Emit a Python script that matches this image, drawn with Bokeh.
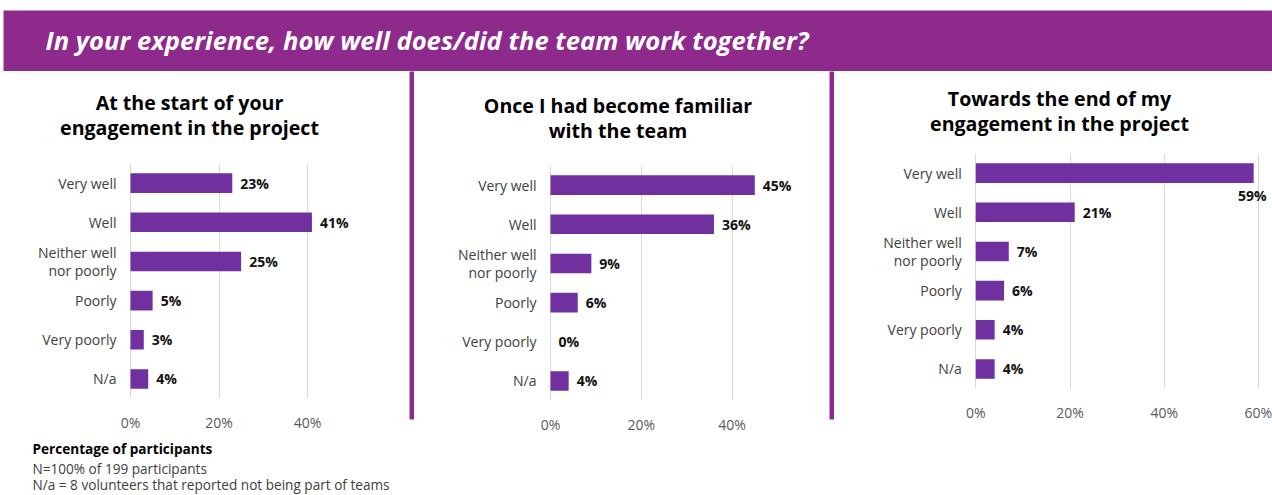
from bokeh.plotting import figure
from bokeh.layouts import row, column
from bokeh.models import (ColumnDataSource, FactorRange, Range1d, FixedTicker,
                          Label, CustomJSTickFormatter)
from bokeh.core.properties import value
from bokeh.embed import file_html
from bokeh.resources import INLINE

# ---------------- data ----------------
categories = ["Very well", "Well", "Neither well nor poorly", "Poorly", "Very poorly", "N/a"]
category_labels = ["Very well", "Well", "Neither well\nnor poorly", "Poorly", "Very poorly", "N/a"]
start_values = [23, 41, 25, 5, 3, 4]
familiar_values = [45, 36, 9, 6, 0, 4]
end_values = [59, 21, 7, 6, 4, 4]

panel_titles = [
    ["At the start of your", "engagement in the project"],
    ["Once I had become familiar", "with the team"],
    ["Towards the end of my", "engagement in the project"],
]
panel_ticks = [[0, 20, 40], [0, 20, 40], [0, 20, 40, 60]]

header_text = "In your experience, how well does/did the team work together?"
footer_bold = "Percentage of participants"
footer_lines = ["N=100% of 199 participants",
                "N/a = 8 volunteers that reported not being part of teams"]

# ---------------- style / layout ----------------
FONT = "Open Sans"
BAR = "#7030A0"
BAND = "#8E2A8C"
GRID = "#D9D9D9"
PAGE_W, PAGE_H = 1272, 495
HEAD_B = 71          # header band bottom (page y)
BARS_TOP = 145       # page y where the bar figures start
FRAME_H = 235

panels = [
    dict(values=start_values, x0=0, width=409, zero=130, ppp=4.425, top=163, bottom_fig=436,
         tx=189, ty=[101.5, 126.5]),
    dict(values=familiar_values, x0=414, width=415, zero=550, ppp=4.54, top=165, bottom_fig=PAGE_H,
         tx=617.5, ty=[104.5, 129.5]),
    dict(values=end_values, x0=834, width=438, zero=975.3, ppp=4.71, top=153, bottom_fig=PAGE_H,
         tx=1059, ty=[98, 123]),
]


def plain(fig):
    fig.axis.visible = False
    fig.grid.visible = False
    fig.outline_line_color = None
    fig.border_fill_color = "white"
    fig.background_fill_color = "white"
    return fig


def make_title(i, cfg):
    t = figure(width=cfg["width"], height=BARS_TOP - HEAD_B, output_backend="svg",
               toolbar_location=None,
               x_range=Range1d(cfg["x0"], cfg["x0"] + cfg["width"]),
               y_range=Range1d(BARS_TOP, HEAD_B),
               min_border=0)
    plain(t)
    for line, ty in zip(panel_titles[i], cfg["ty"]):
        t.add_layout(Label(x=cfg["tx"], y=ty, text=line, text_align="center",
                           text_baseline="middle", text_font=FONT, text_font_style="bold",
                           text_font_size="19.6px", text_color="#000000"))
    return t


def make_bars(i, cfg):
    h = cfg["bottom_fig"] - BARS_TOP
    top_b = cfg["top"] - BARS_TOP
    bot_b = h - top_b - FRAME_H
    x_start = -(cfg["zero"] - cfg["x0"]) / cfg["ppp"]
    x_end = (cfg["x0"] + cfg["width"] - cfg["zero"]) / cfg["ppp"]
    p = figure(width=cfg["width"], height=h, output_backend="svg", toolbar_location=None,
               x_range=Range1d(x_start, x_end),
               y_range=FactorRange(factors=list(reversed(categories)), range_padding=0),
               min_border_left=0, min_border_right=0,
               min_border_top=top_b, min_border_bottom=bot_b)
    p.outline_line_color = None
    p.background_fill_color = "white"
    p.border_fill_color = "white"

    vals = cfg["values"]
    below = [v > x_end - 6 for v in vals]
    src = ColumnDataSource(dict(cat=categories, val=vals, zero=[0] * len(vals),
                                clab=category_labels,
                                lab=[f"{v}%" for v in vals],
                                xo=[13 if b else 8 for b in below],
                                yo=[22 if b else 0 for b in below],
                                al=["right" if b else "left" for b in below]))
    p.hbar(y="cat", right="val", left=0, height=0.5, source=src,
           fill_color=BAR, line_color=None)

    # value labels
    p.text(x="val", y="cat", text="lab", source=src, x_offset="xo", y_offset="yo",
           text_align="al", text_baseline="middle", text_font=value(FONT),
           text_font_style="bold", text_font_size="14px", text_color="#111111")
    # category labels
    p.text(x="zero", y="cat", text="clab", source=src, x_offset=-14,
           text_align="right", text_baseline="middle", text_font=value(FONT),
           text_font_size="14px", text_color="#404040", text_line_height=0.94)

    p.yaxis.visible = False
    p.xaxis.ticker = FixedTicker(ticks=panel_ticks[i])
    p.xaxis.formatter = CustomJSTickFormatter(code="return tick.toFixed(0) + '%'")
    p.xaxis.axis_line_color = None
    p.xaxis.major_tick_line_color = None
    p.xaxis.minor_tick_line_color = None
    p.xaxis.major_label_standoff = 8
    p.xaxis.major_label_text_font = FONT
    p.xaxis.major_label_text_font_size = "14px"
    p.xaxis.major_label_text_color = "#595959"

    p.xgrid.grid_line_color = GRID
    p.xgrid.grid_line_width = 1
    p.ygrid.grid_line_color = None
    return p


def make_footer():
    f = figure(width=409, height=PAGE_H - panels[0]["bottom_fig"], output_backend="svg",
               toolbar_location=None, x_range=Range1d(0, 409),
               y_range=Range1d(PAGE_H, panels[0]["bottom_fig"]), min_border=0)
    plain(f)
    texts = [footer_bold] + footer_lines
    for k, (t, y) in enumerate(zip(texts, [448, 468, 484])):
        f.add_layout(Label(x=32, y=y, text=t, text_align="left", text_baseline="middle",
                           text_font=FONT, text_font_style="bold" if k == 0 else "normal",
                           text_font_size="13.6px",
                           text_color="#000000" if k == 0 else "#404040"))
    return f


def make_sep():
    s = figure(width=5, height=PAGE_H - HEAD_B, output_backend="svg", toolbar_location=None,
               x_range=Range1d(0, 1), y_range=Range1d(0, 1),
               min_border_left=0, min_border_right=0, min_border_top=0,
               min_border_bottom=PAGE_H - 419)
    plain(s)
    s.background_fill_color = BAND
    return s


header = figure(width=PAGE_W, height=HEAD_B, output_backend="svg", toolbar_location=None,
                x_range=Range1d(3, PAGE_W), y_range=Range1d(HEAD_B, 10),
                min_border_left=3, min_border_right=0, min_border_top=10, min_border_bottom=0)
plain(header)
header.background_fill_color = BAND
header.add_layout(Label(x=45, y=40, text=header_text, text_align="left",
                        text_baseline="middle", text_font=FONT,
                        text_font_style="bold italic", text_font_size="25.6px",
                        text_color="white"))

cols = []
for i, cfg in enumerate(panels):
    items = [make_title(i, cfg), make_bars(i, cfg)]
    if i == 0:
        items.append(make_footer())
    cols.append(column(*items, spacing=0))

layout = column(header, row(cols[0], make_sep(), cols[1], make_sep(), cols[2], spacing=0),
                spacing=0)

open("out.html", "w").write(file_html(layout, INLINE))
